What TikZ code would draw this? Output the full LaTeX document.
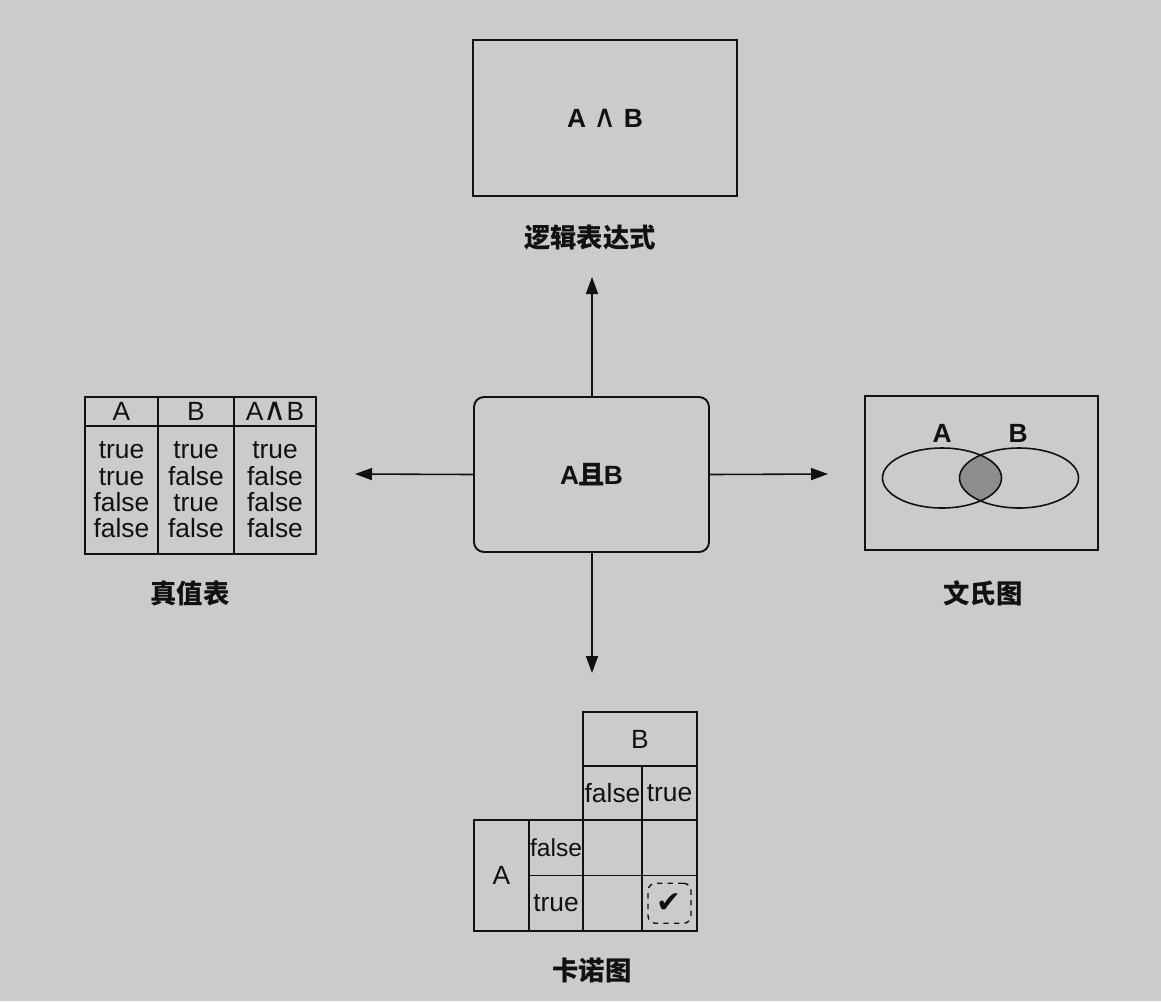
\documentclass[tikz,border=0pt]{standalone}
\usepackage{fontspec}
\setmainfont{Liberation Sans}
\newfontfamily\cjk{Noto Sans CJK SC}
\newfontfamily\dejavu{DejaVu Sans}
\usetikzlibrary{arrows.meta}
\definecolor{pagegray}{HTML}{CBCBCB}
\definecolor{inkblack}{HTML}{111111}
\definecolor{lensgray}{HTML}{8E8E8E}
\newcommand{\andsym}{{\dejavu\mdseries\fontsize{18}{15}\selectfont ∧}}

\begin{document}
\begin{tikzpicture}[
  every node/.style={text=inkblack, font=\fontsize{15}{15}\selectfont},
  panel/.style={draw=inkblack, line width=1.1pt, inner sep=0pt},
  cell/.style={draw=inkblack, line width=0.9pt, inner sep=0pt},
  caption/.style={font=\cjk\bfseries\fontsize{15}{15}\selectfont},
  conn/.style={inkblack, line width=0.9pt, -{Triangle[length=0.34cm,width=0.24cm]}}
]
\fill[pagegray] (0,0) rectangle (23.22,-20.02);
\useasboundingbox (0,0) rectangle (23.22,-20.02);

% centre and top
\node[panel, rounded corners=0.2cm, minimum width=4.70cm, minimum height=3.10cm, font=\bfseries\fontsize{15}{15}\selectfont] (hub) at (11.83,-9.49) {A\hspace{-0.5pt}{\cjk\bfseries 且}\hspace{-0.5pt}B};
\node[panel, minimum width=5.28cm, minimum height=3.12cm, font=\bfseries\fontsize{15}{15}\selectfont] (expr) at (12.10,-2.36) {A \andsym{} B};
\node[caption] (exprcap) at (11.80,-4.76) {逻辑表达式};

\coordinate (uptip) at (11.84,-5.54);
\coordinate (lefttip) at (7.10,-9.48);
\coordinate (righttip) at (16.56,-9.48);
\coordinate (downtip) at (11.84,-13.46);

\draw[conn] (hub.north -| uptip) -- (uptip);
\draw[conn] (hub.west) -- (lefttip);
\draw[conn] (hub.east) -- (righttip);
\draw[conn] (hub.south -| downtip) -- (downtip);

% truth table
\node[cell, minimum width=1.46cm, minimum height=0.58cm] (headA) at (2.43,-8.23) {A};
\node[cell, minimum width=1.52cm, minimum height=0.58cm] (headB) at (3.92,-8.23) {B};
\node[cell, minimum width=1.64cm, minimum height=0.58cm] (headAB) at (5.50,-8.23) {A\andsym B};
\node[cell, minimum width=1.46cm, minimum height=2.56cm, align=center] (colA) at (2.43,-9.80)
  {true\\true\\false\\false};
\node[cell, minimum width=1.52cm, minimum height=2.56cm, align=center] (colB) at (3.92,-9.80)
  {true\\false\\true\\false};
\node[cell, minimum width=1.64cm, minimum height=2.56cm, align=center] (colAB) at (5.50,-9.80)
  {true\\false\\false\\false};
\node[caption] (tablecap) at (3.80,-11.86) {真值表};

% venn diagram
\node[panel, minimum width=4.66cm, minimum height=3.08cm] (venn) at (19.63,-9.46) {};
\begin{scope}
  \clip (18.84,-9.56) ellipse (1.19cm and 0.60cm);
  \fill[lensgray] (20.38,-9.56) ellipse (1.19cm and 0.60cm);
\end{scope}
\draw[inkblack, line width=0.9pt] (18.84,-9.56) ellipse (1.19cm and 0.60cm);
\draw[inkblack, line width=0.9pt] (20.38,-9.56) ellipse (1.19cm and 0.60cm);
\node[font=\bfseries\fontsize{15}{15}\selectfont] (setA) at (18.84,-8.66) {A};
\node[font=\bfseries\fontsize{15}{15}\selectfont] (setB) at (20.36,-8.66) {B};
\node[caption] (venncap) at (19.66,-11.86) {文氏图};

% karnaugh map
\node[cell, minimum width=2.28cm, minimum height=1.08cm] (kB) at (12.80,-14.78) {B};
\node[cell, minimum width=1.18cm, minimum height=1.08cm] (kBf) at (12.25,-15.86) {false};
\node[cell, minimum width=1.10cm, minimum height=1.08cm] (kBt) at (13.39,-15.86) {true};
\node[cell, minimum width=1.10cm, minimum height=2.22cm] (kA) at (10.03,-17.51) {A};
\node[cell, minimum width=1.08cm, minimum height=1.11cm, font=\fontsize{14}{14}\selectfont] (kAf) at (11.12,-16.955) {false};
\node[cell, minimum width=1.08cm, minimum height=1.11cm] (kAt) at (11.12,-18.065) {true};
\node[cell, minimum width=1.18cm, minimum height=1.11cm] (kff) at (12.25,-16.955) {};
\node[cell, minimum width=1.10cm, minimum height=1.11cm] (kft) at (13.39,-16.955) {};
\node[cell, minimum width=1.18cm, minimum height=1.11cm] (ktf) at (12.25,-18.065) {};
\node[cell, minimum width=1.10cm, minimum height=1.11cm] (ktt) at (13.39,-18.065) {};
\node[draw=inkblack, dashed, line width=0.8pt, rounded corners=0.15cm, minimum width=0.86cm, minimum height=0.80cm, font=\dejavu\fontsize{17}{17}\selectfont] (tick) at (ktt) {✔};
\node[caption] (kmapcap) at (11.84,-19.40) {卡诺图};
\end{tikzpicture}
\end{document}
